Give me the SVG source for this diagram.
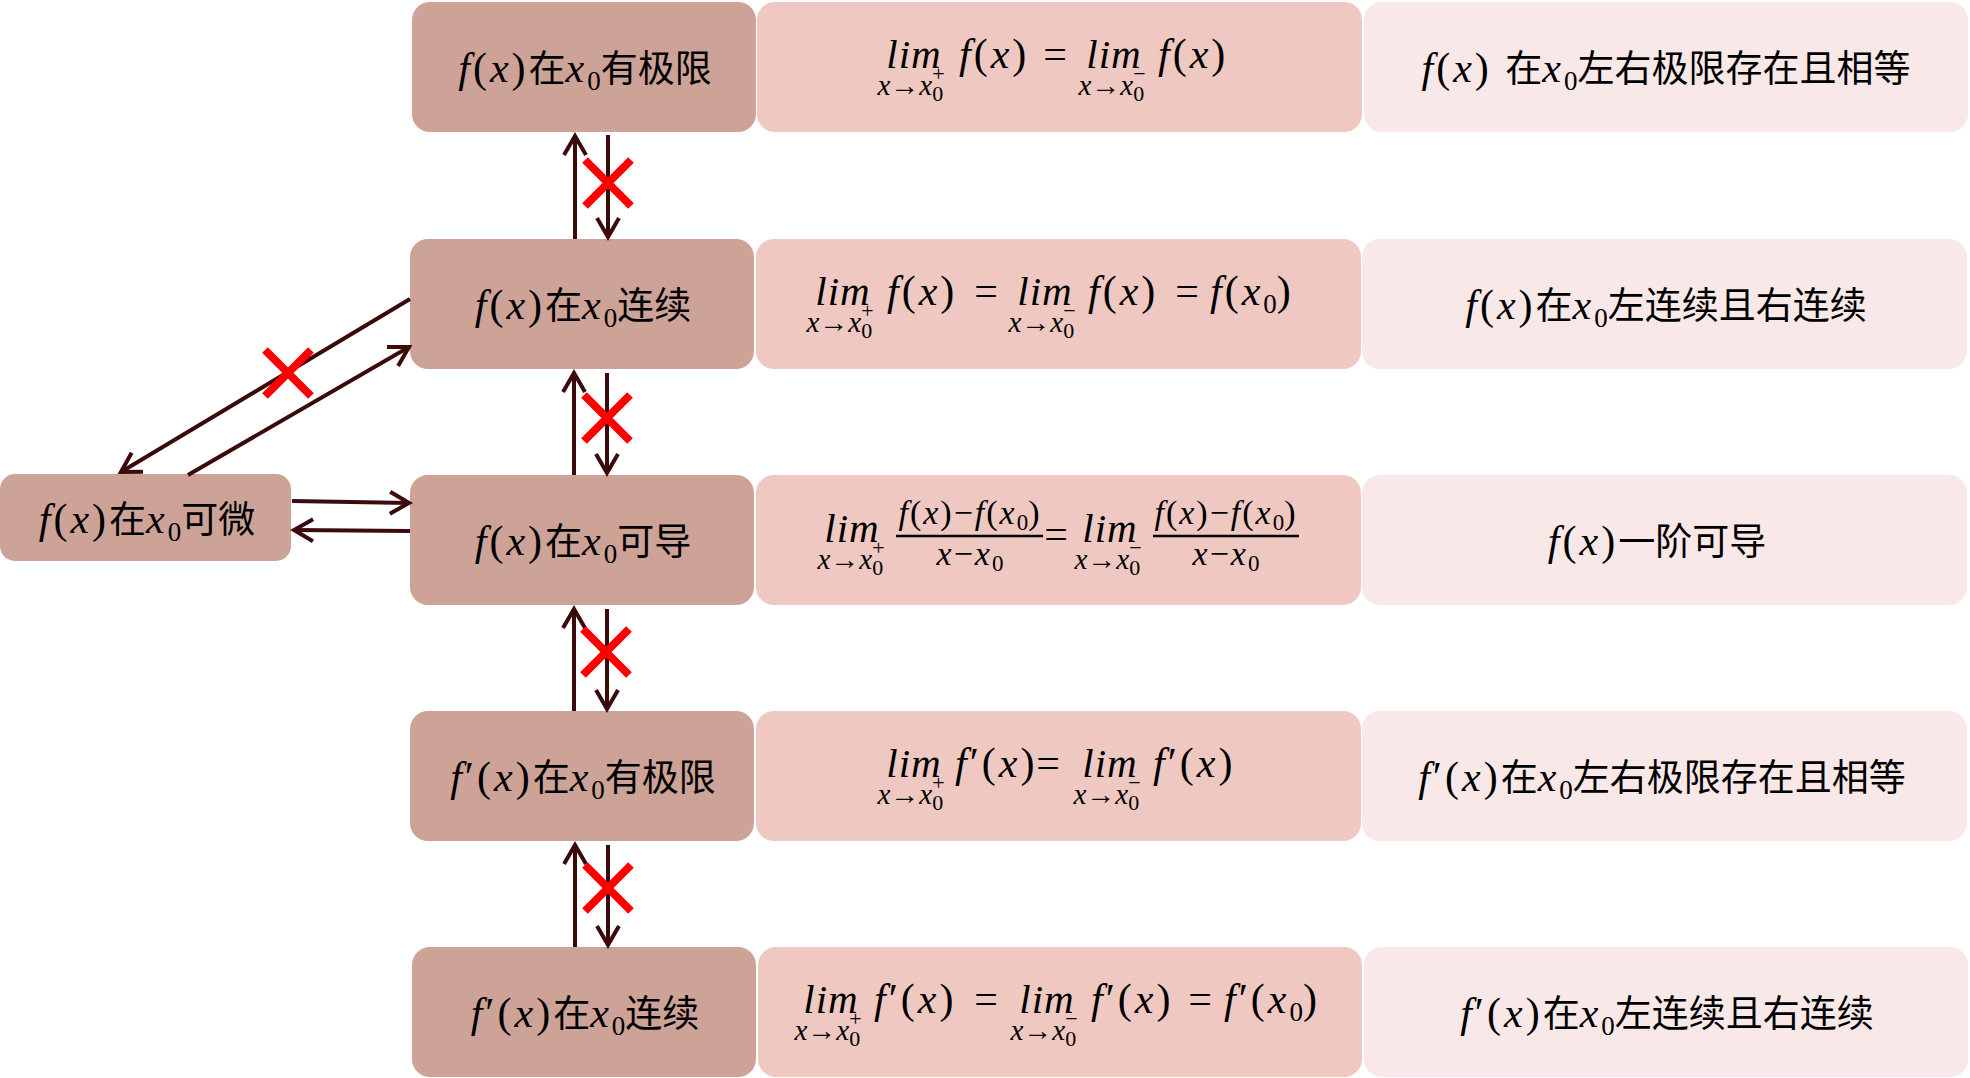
<svg xmlns="http://www.w3.org/2000/svg" width="1970" height="1078" viewBox="0 0 1970 1078">
<style>
.b1{fill:#CDA398}
.b2{fill:#EFC9C1}
.b3{fill:#F8E8E7}
.lbl{text-anchor:middle;fill:#000}
.m{font-family:"Liberation Serif",serif;font-style:normal;font-size:42px;letter-spacing:3px}
.i{font-style:italic}
.s{font-family:"Liberation Serif",serif;font-style:normal;font-size:27px;letter-spacing:0}
.c{font-family:"Noto Sans CJK SC",sans-serif;font-size:37px;font-style:normal;letter-spacing:0}
.mt{font-family:"Liberation Serif",serif;font-style:normal;font-size:42px;letter-spacing:3px;fill:#000}
.lim{font-family:"Liberation Serif",serif;font-style:italic;font-size:41px;text-anchor:middle;fill:#000;letter-spacing:1px}
.sub{font-family:"Liberation Serif",serif;font-style:italic;font-size:29px;text-anchor:middle;fill:#000}
.ar2{font-style:normal}
.ss{font-style:normal;font-size:22px}
.eq{font-family:"Liberation Serif",serif;font-size:42px;text-anchor:middle;fill:#000}
.fr{font-family:"Liberation Serif",serif;font-style:normal;font-size:34px;letter-spacing:2px;text-anchor:middle;fill:#000}
.fs{font-style:normal;font-size:23px;letter-spacing:0}
.bar{stroke:#000;stroke-width:2.5}
.ar{stroke:#3B0B0B;stroke-width:4;fill:none;marker-end:url(#ah)}
.x{stroke:#FF0000;stroke-width:8;fill:none}
</style>
<defs>
<marker id="ah" markerUnits="userSpaceOnUse" markerWidth="30" markerHeight="30" viewBox="0 0 30 30" refX="24" refY="15" orient="auto" overflow="visible">
<path d="M5,4 L24,15 L5,26" fill="none" stroke="#3B0B0B" stroke-width="4" stroke-linejoin="miter"/>
</marker>
</defs>
<rect width="1970" height="1078" fill="#FFFFFF"/>

<!-- Row 1 -->
<g id="n-r1c1"><rect class="b1" x="412" y="2" width="344" height="130" rx="18"/>
<text class="lbl" x="585" y="82"><tspan class="m"><tspan class="i">f</tspan>(<tspan class="i">x</tspan>)</tspan><tspan class="c">在</tspan><tspan class="m i">x</tspan><tspan class="s" dy="8">0</tspan><tspan class="c" dy="-8">有极限</tspan></text></g>
<g id="n-r1c2"><rect class="b2" x="757" y="2" width="605" height="130" rx="18"/>
<text class="lim" x="914" y="68">lim</text>
<text class="sub" x="911" y="95">x<tspan class="ar2">→</tspan>x<tspan class="ss" dy="6">0</tspan><tspan class="ss" dx="-11" dy="-20">+</tspan></text>
<text class="mt" x="959" y="68"><tspan class="i">f</tspan>(<tspan class="i">x</tspan>)</text>
<text class="eq" x="1055" y="68">=</text>
<text class="lim" x="1114" y="68">lim</text>
<text class="sub" x="1112" y="95">x<tspan class="ar2">→</tspan>x<tspan class="ss" dy="6">0</tspan><tspan class="ss" dx="-11" dy="-20">−</tspan></text>
<text class="mt" x="1158" y="68"><tspan class="i">f</tspan>(<tspan class="i">x</tspan>)</text></g>
<g id="n-r1c3"><rect class="b3" x="1364" y="2" width="604" height="130" rx="18"/>
<text class="lbl" x="1666" y="82"><tspan class="m"><tspan class="i">f</tspan>(<tspan class="i">x</tspan>) </tspan><tspan class="c">在</tspan><tspan class="m i">x</tspan><tspan class="s" dy="8">0</tspan><tspan class="c" dy="-8">左右极限存在且相等</tspan></text></g>

<!-- Row 2 -->
<g id="n-r2c1"><rect class="b1" x="410" y="239" width="344" height="130" rx="18"/>
<text class="lbl" x="583" y="319"><tspan class="m"><tspan class="i">f</tspan>(<tspan class="i">x</tspan>)</tspan><tspan class="c">在</tspan><tspan class="m i">x</tspan><tspan class="s" dy="8">0</tspan><tspan class="c" dy="-8">连续</tspan></text></g>
<g id="n-r2c2"><rect class="b2" x="756" y="239" width="605" height="130" rx="18"/>
<text class="lim" x="843" y="305">lim</text>
<text class="sub" x="840" y="332">x<tspan class="ar2">→</tspan>x<tspan class="ss" dy="6">0</tspan><tspan class="ss" dx="-11" dy="-20">+</tspan></text>
<text class="mt" x="887" y="305"><tspan class="i">f</tspan>(<tspan class="i">x</tspan>)</text>
<text class="eq" x="986" y="305">=</text>
<text class="lim" x="1045" y="305">lim</text>
<text class="sub" x="1042" y="332">x<tspan class="ar2">→</tspan>x<tspan class="ss" dy="6">0</tspan><tspan class="ss" dx="-11" dy="-20">−</tspan></text>
<text class="mt" x="1088" y="305"><tspan class="i">f</tspan>(<tspan class="i">x</tspan>)</text>
<text class="eq" x="1187" y="305">=</text>
<text class="mt" x="1210" y="305"><tspan class="i">f</tspan>(<tspan class="i">x</tspan><tspan class="s" dy="8">0</tspan><tspan dy="-8">)</tspan></text></g>
<g id="n-r2c3"><rect class="b3" x="1362" y="239" width="605" height="130" rx="18"/>
<text class="lbl" x="1666" y="319"><tspan class="m"><tspan class="i">f</tspan>(<tspan class="i">x</tspan>)</tspan><tspan class="c">在</tspan><tspan class="m i">x</tspan><tspan class="s" dy="8">0</tspan><tspan class="c" dy="-8">左连续且右连续</tspan></text></g>

<!-- Row 3 -->
<g id="n-r3c1"><rect class="b1" x="410" y="475" width="344" height="130" rx="18"/>
<text class="lbl" x="583" y="555"><tspan class="m"><tspan class="i">f</tspan>(<tspan class="i">x</tspan>)</tspan><tspan class="c">在</tspan><tspan class="m i">x</tspan><tspan class="s" dy="8">0</tspan><tspan class="c" dy="-8">可导</tspan></text></g>
<g id="n-r3c2"><rect class="b2" x="756" y="475" width="605" height="130" rx="18"/>
<text class="lim" x="852" y="542">lim</text>
<text class="sub" x="851" y="569">x<tspan class="ar2">→</tspan>x<tspan class="ss" dy="6">0</tspan><tspan class="ss" dx="-11" dy="-20">+</tspan></text>
<text class="fr" x="970" y="524"><tspan class="i">f</tspan>(<tspan class="i">x</tspan>)−<tspan class="i">f</tspan>(<tspan class="i">x</tspan><tspan class="fs" dy="6">0</tspan><tspan dy="-6">)</tspan></text>
<line class="bar" x1="896" y1="536" x2="1043" y2="536"/>
<text class="fr" x="970" y="565"><tspan class="i">x</tspan>−<tspan class="i">x</tspan><tspan class="fs" dy="6">0</tspan></text>
<text class="eq" x="1056" y="548">=</text>
<text class="lim" x="1110" y="542">lim</text>
<text class="sub" x="1108" y="569">x<tspan class="ar2">→</tspan>x<tspan class="ss" dy="6">0</tspan><tspan class="ss" dx="-11" dy="-20">−</tspan></text>
<text class="fr" x="1226" y="524"><tspan class="i">f</tspan>(<tspan class="i">x</tspan>)−<tspan class="i">f</tspan>(<tspan class="i">x</tspan><tspan class="fs" dy="6">0</tspan><tspan dy="-6">)</tspan></text>
<line class="bar" x1="1153" y1="536" x2="1299" y2="536"/>
<text class="fr" x="1226" y="565"><tspan class="i">x</tspan>−<tspan class="i">x</tspan><tspan class="fs" dy="6">0</tspan></text></g>
<g id="n-r3c3"><rect class="b3" x="1362" y="475" width="605" height="130" rx="18"/>
<text class="lbl" x="1657" y="555"><tspan class="m"><tspan class="i">f</tspan>(<tspan class="i">x</tspan>)</tspan><tspan class="c">一阶可导</tspan></text></g>

<!-- Row 4 -->
<g id="n-r4c1"><rect class="b1" x="410" y="711" width="344" height="130" rx="18"/>
<text class="lbl" x="583" y="791"><tspan class="m"><tspan class="i">f</tspan>′(<tspan class="i">x</tspan>)</tspan><tspan class="c">在</tspan><tspan class="m i">x</tspan><tspan class="s" dy="8">0</tspan><tspan class="c" dy="-8">有极限</tspan></text></g>
<g id="n-r4c2"><rect class="b2" x="756" y="711" width="605" height="130" rx="18"/>
<text class="lim" x="914" y="777">lim</text>
<text class="sub" x="911" y="804">x<tspan class="ar2">→</tspan>x<tspan class="ss" dy="6">0</tspan><tspan class="ss" dx="-11" dy="-20">+</tspan></text>
<text class="mt" x="955" y="777"><tspan class="i">f</tspan>′(<tspan class="i">x</tspan>)</text>
<text class="eq" x="1048" y="777">=</text>
<text class="lim" x="1110" y="777">lim</text>
<text class="sub" x="1107" y="804">x<tspan class="ar2">→</tspan>x<tspan class="ss" dy="6">0</tspan><tspan class="ss" dx="-11" dy="-20">−</tspan></text>
<text class="mt" x="1153" y="777"><tspan class="i">f</tspan>′(<tspan class="i">x</tspan>)</text></g>
<g id="n-r4c3"><rect class="b3" x="1362" y="711" width="605" height="130" rx="18"/>
<text class="lbl" x="1662" y="791"><tspan class="m"><tspan class="i">f</tspan>′(<tspan class="i">x</tspan>)</tspan><tspan class="c">在</tspan><tspan class="m i">x</tspan><tspan class="s" dy="8">0</tspan><tspan class="c" dy="-8">左右极限存在且相等</tspan></text></g>

<!-- Row 5 -->
<g id="n-r5c1"><rect class="b1" x="412" y="947" width="344" height="130" rx="18"/>
<text class="lbl" x="585" y="1027"><tspan class="m"><tspan class="i">f</tspan>′(<tspan class="i">x</tspan>)</tspan><tspan class="c">在</tspan><tspan class="m i">x</tspan><tspan class="s" dy="8">0</tspan><tspan class="c" dy="-8">连续</tspan></text></g>
<g id="n-r5c2"><rect class="b2" x="758" y="947" width="604" height="130" rx="18"/>
<text class="lim" x="831" y="1013">lim</text>
<text class="sub" x="828" y="1040">x<tspan class="ar2">→</tspan>x<tspan class="ss" dy="6">0</tspan><tspan class="ss" dx="-11" dy="-20">+</tspan></text>
<text class="mt" x="874" y="1013"><tspan class="i">f</tspan>′(<tspan class="i">x</tspan>)</text>
<text class="eq" x="986" y="1013">=</text>
<text class="lim" x="1047" y="1013">lim</text>
<text class="sub" x="1044" y="1040">x<tspan class="ar2">→</tspan>x<tspan class="ss" dy="6">0</tspan><tspan class="ss" dx="-11" dy="-20">−</tspan></text>
<text class="mt" x="1091" y="1013"><tspan class="i">f</tspan>′(<tspan class="i">x</tspan>)</text>
<text class="eq" x="1200" y="1013">=</text>
<text class="mt" x="1224" y="1013"><tspan class="i">f</tspan>′(<tspan class="i">x</tspan><tspan class="s" dy="8">0</tspan><tspan dy="-8">)</tspan></text></g>
<g id="n-r5c3"><rect class="b3" x="1364" y="947" width="604" height="130" rx="18"/>
<text class="lbl" x="1667" y="1027"><tspan class="m"><tspan class="i">f</tspan>′(<tspan class="i">x</tspan>)</tspan><tspan class="c">在</tspan><tspan class="m i">x</tspan><tspan class="s" dy="8">0</tspan><tspan class="c" dy="-8">左连续且右连续</tspan></text></g>

<!-- Left node -->
<g id="n-diff"><rect class="b1" x="0" y="474" width="291" height="87" rx="15"/>
<text class="lbl" x="147" y="533"><tspan class="m"><tspan class="i">f</tspan>(<tspan class="i">x</tspan>)</tspan><tspan class="c">在</tspan><tspan class="m i">x</tspan><tspan class="s" dy="8">0</tspan><tspan class="c" dy="-8">可微</tspan></text></g>

<g id="connectors">
<line class="ar" x1="575" y1="239" x2="575" y2="136"/>
<line class="ar" x1="608" y1="135" x2="608" y2="237"/>
<line class="ar" x1="574" y1="475" x2="574" y2="373"/>
<line class="ar" x1="607" y1="373" x2="607" y2="473"/>
<line class="ar" x1="574" y1="711" x2="574" y2="609"/>
<line class="ar" x1="607" y1="609" x2="607" y2="709"/>
<line class="ar" x1="575" y1="947" x2="575" y2="845"/>
<line class="ar" x1="608" y1="845" x2="608" y2="945"/>
<line class="ar" x1="410" y1="299" x2="121" y2="472"/>
<line class="ar" x1="188" y1="475" x2="409" y2="347"/>
<line class="ar" x1="292" y1="501" x2="409" y2="503"/>
<line class="ar" x1="410" y1="531" x2="294" y2="530"/>
</g>
<g id="cross-marks">
<path class="x" d="M585,160 L631,206 M631,160 L585,206"/>
<path class="x" d="M584,395 L630,441 M630,395 L584,441"/>
<path class="x" d="M583,629 L629,675 M629,629 L583,675"/>
<path class="x" d="M585,865 L631,911 M631,865 L585,911"/>
<path class="x" d="M265,350 L311,396 M311,350 L265,396"/>
</g>
</svg>
